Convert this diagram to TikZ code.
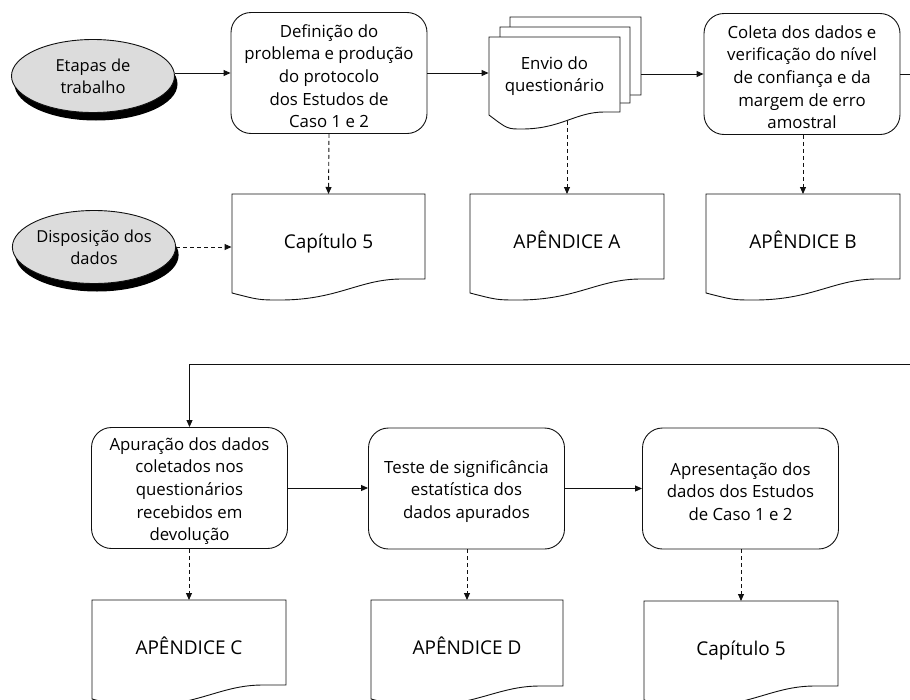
\documentclass[tikz,border=0pt]{standalone}
\usepackage{fontspec}
\setmainfont{Open Sans}
\usetikzlibrary{arrows.meta,shapes.geometric,shadows,calc}

\definecolor{ovalgrey}{HTML}{DCDCDC}
\definecolor{inkline}{HTML}{111111}

% Document symbol: x1, ytop, x2, y at left foot, y of the dip, y at right foot
\newcommand\docoutline[6]{%
  \draw[docline]
    (#1,#2) -- (#1,#4)
    .. controls ({#1+0.14*(#3-#1)},#5) .. ({#1+0.25*(#3-#1)},#5)
    .. controls ({#1+0.55*(#3-#1)},#5) and ({#1+0.66*(#3-#1)},#6) .. ({#1+0.88*(#3-#1)},#6)
    -- (#3,#6) -- (#3,#2) -- cycle;}

% taller first line, so the text block sits a little below the box centre
\newcommand\firstlinestrut{\rule{0pt}{19pt}}

\begin{document}
\begin{tikzpicture}[x=1pt,y=-1pt,
  line width=0.9pt, draw=inkline,
  docline/.style={draw=inkline, fill=white, line width=0.9pt},
  stagebox/.style={draw, rounded corners=20pt, minimum width=196pt,
    minimum height=121pt, align=center, inner sep=0pt,
    font=\fontsize{16.8}{22.6}\selectfont},
  doclabel/.style={anchor=north, minimum width=193pt, minimum height=90pt,
    inner sep=0pt, text height=21pt, text depth=3pt,
    font=\fontsize{19}{23}\selectfont},
  oval/.style={ellipse, draw, fill=ovalgrey, minimum width=163pt,
    minimum height=73pt, inner sep=0pt, align=center,
    font=\fontsize{16.5}{22}\selectfont,
    drop shadow={shadow xshift=3pt, shadow yshift=-8pt, fill=black, opacity=1}},
  flow/.style={draw, -{Triangle[length=7pt,width=6pt]}},
  reflink/.style={flow, dash pattern=on 4pt off 3pt}
]
\clip (0,0) rectangle (910,699);

% ---- upper row: work stages ----
\node[oval] (e1) at (93,76) {Etapas de\\trabalho};
\node[stagebox] (box1) at (329,73) {\firstlinestrut Definição do\\problema e produção\\do protocolo\\dos Estudos de\\Caso 1 e 2};

% stacked questionnaire sheets
\docoutline{510}{17}{641}{97}{110}{95}
\docoutline{500}{27}{630}{106}{119}{103}
\docoutline{489}{37}{620}{115}{129}{112}
\node[inner sep=0pt, minimum width=152pt, minimum height=78pt] (stackback) at (565,56) {};
\node[align=center, inner sep=0pt, minimum width=131pt, minimum height=74pt,
  font=\fontsize{16.8}{22.6}\selectfont] (stack) at (554.5,76) {Envio do\\questionário};
\coordinate (stackfoot) at (567,121);

\node[stagebox] (box3) at (802,74) {\firstlinestrut Coleta dos dados e\\verificação do nível\\de confiança e da\\margem de erro\\amostral};

% ---- upper row: where the data are placed ----
\node[oval] (e2) at (94,247) {Disposição dos\\dados};

\docoutline{232}{194}{425}{293}{300}{279}
\node[doclabel] (cap1) at (328.5,194) {Capítulo 5};
\docoutline{470}{194}{664}{293}{300}{279}
\node[doclabel] (apA) at (567,194) {APÊNDICE A};
\docoutline{706}{194}{900}{293}{300}{279}
\node[doclabel] (apB) at (803,194) {APÊNDICE B};

% ---- lower row ----
\node[stagebox] (box4) at (189.5,488) {\firstlinestrut Apuração dos dados\\coletados nos\\questionários\\recebidos em\\devolução};
\node[stagebox] (box5) at (466.5,488.5) {\firstlinestrut Teste de significância\\estatística dos\\dados apurados};
\node[stagebox] (box6) at (740.5,488.5) {\firstlinestrut Apresentação dos\\dados dos Estudos\\de Caso 1 e 2};

\docoutline{92}{600}{286}{699}{706}{685}
\node[doclabel] (apC) at (189,600) {APÊNDICE C};
\docoutline{371}{600}{563}{699}{706}{686}
\node[doclabel] (apD) at (467,600) {APÊNDICE D};
\docoutline{644}{601}{838}{700}{707}{686}
\node[doclabel] (cap2) at (741,601) {Capítulo 5};

% ---- process flow ----
\draw[flow] (e1.east |- box1.west) -- (box1.west);
\draw[flow] (box1.east) -- (box1.east -| stack.west);
\draw[flow] (stackback.east |- box3.west) -- (box3.west);
\draw[flow] (box3.east) -- ++(45,0) |- ($(box4.north)+(0,-63)$) -- (box4.north);
\draw[flow] (box4.east) -- (box4.east -| box5.west);
\draw[flow] (box5.east) -- (box5.east -| box6.west);

% ---- references to the document parts ----
\draw[reflink] (e2.east) -- (e2.east -| cap1.west);
\draw[reflink] (box1.south) -- (cap1.north);
\draw[reflink] (stackfoot) -- (apA.north);
\draw[reflink] (box3.south -| apB.north) -- (apB.north);
\draw[reflink] (box4.south -| apC.north) -- (apC.north);
\draw[reflink] (box5.south -| apD.north) -- (apD.north);
\draw[reflink] (box6.south -| cap2.north) -- (cap2.north);
\end{tikzpicture}
\end{document}
